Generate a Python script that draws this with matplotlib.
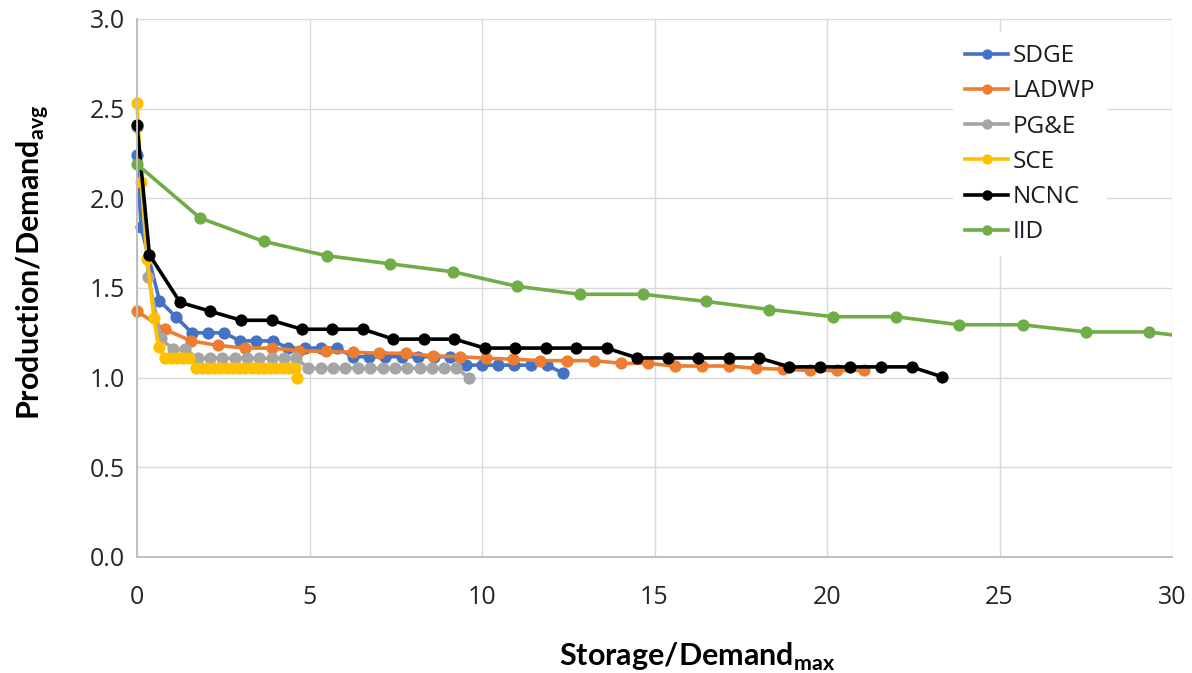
import matplotlib
matplotlib.use("Agg")
import matplotlib.pyplot as plt
from matplotlib.patches import Rectangle

# ---- data -------------------------------------------------------------
series_names = ["SDGE", "LADWP", "PG&E", "SCE", "NCNC", "IID"]
series_colors = ["#4472C4", "#ED7D31", "#A5A5A5", "#FFC000", "#000000", "#70AD47"]

sdge_x = [0, 0.12, 0.65, 1.12, 1.59, 2.05, 2.52, 2.99, 3.46, 3.93, 4.39, 4.86,
          5.33, 5.80, 6.26, 6.73, 7.20, 7.67, 8.14, 8.60, 9.07, 9.54, 10.01,
          10.47, 10.94, 11.41, 11.88, 12.35]
sdge_y = [2.24, 1.84, 1.43, 1.34, 1.25, 1.25, 1.25, 1.205, 1.205, 1.205,
          1.165, 1.165, 1.165, 1.165, 1.117, 1.117, 1.117, 1.117, 1.117, 1.117,
          1.117, 1.07, 1.07, 1.07, 1.07, 1.07, 1.07, 1.025]

ladwp_x = [0, 0.80, 1.57, 2.34, 3.12, 3.90, 4.69, 5.47, 6.25, 7.02, 7.80, 8.58,
           9.36, 10.13, 10.91, 11.69, 12.47, 13.25, 14.03, 14.81, 15.59, 16.38,
           17.16, 17.94, 18.72, 19.50, 20.28, 21.06]
ladwp_y = [1.37, 1.27, 1.205, 1.18, 1.165, 1.165, 1.15, 1.146, 1.142, 1.136,
           1.136, 1.121, 1.117, 1.108, 1.103, 1.095, 1.095, 1.095, 1.08, 1.08,
           1.065, 1.065, 1.065, 1.052, 1.047, 1.04, 1.04, 1.04]

pge_x = [0, 0.33, 0.69, 1.04, 1.40, 1.76, 2.12, 2.47, 2.83, 3.19, 3.54, 3.90,
         4.26, 4.61, 4.97, 5.33, 5.69, 6.04, 6.40, 6.76, 7.12, 7.47, 7.83, 8.19,
         8.55, 8.90, 9.26, 9.62]
pge_y = [2.40, 1.56, 1.22, 1.158, 1.158, 1.108, 1.108, 1.108, 1.108, 1.108,
         1.108, 1.108, 1.108, 1.108, 1.052, 1.052, 1.052, 1.052, 1.052, 1.052,
         1.052, 1.052, 1.052, 1.052, 1.052, 1.052, 1.052, 1.0]

sce_x = [0, 0.13, 0.30, 0.49, 0.63, 0.80, 0.98, 1.16, 1.34, 1.52, 1.70, 1.88,
         2.06, 2.24, 2.42, 2.60, 2.78, 2.96, 3.14, 3.32, 3.50, 3.68, 3.86, 4.04,
         4.22, 4.40, 4.58, 4.65]
sce_y = [2.53, 2.09, 1.66, 1.33, 1.17, 1.112, 1.112, 1.112, 1.112, 1.112,
         1.056, 1.056, 1.056, 1.056, 1.056, 1.056, 1.056, 1.056, 1.056, 1.056,
         1.056, 1.056, 1.056, 1.056, 1.056, 1.056, 1.056, 1.0]

ncnc_x = [0, 0.36, 1.25, 2.13, 3.02, 3.90, 4.78, 5.66, 6.55, 7.43, 8.31, 9.20,
          10.08, 10.96, 11.85, 12.73, 13.61, 14.50, 15.38, 16.26, 17.15, 18.03,
          18.91, 19.80, 20.68, 21.56, 22.45, 23.33]
ncnc_y = [2.41, 1.685, 1.42, 1.37, 1.32, 1.32, 1.27, 1.27, 1.27, 1.215, 1.215,
          1.215, 1.165, 1.165, 1.165, 1.165, 1.165, 1.11, 1.11, 1.11, 1.11,
          1.11, 1.06, 1.06, 1.06, 1.06, 1.06, 1.005]

iid_x = [0, 1.83, 3.67, 5.50, 7.33, 9.17, 11.00, 12.83, 14.67, 16.50, 18.33,
         20.17, 22.00, 23.83, 25.67, 27.50, 29.33, 31.17]
iid_y = [2.19, 1.89, 1.76, 1.68, 1.635, 1.59, 1.51, 1.465, 1.465, 1.425, 1.38,
         1.34, 1.34, 1.295, 1.295, 1.255, 1.255, 1.21]

x_ticks = [0, 5, 10, 15, 20, 25, 30]
y_ticks = [0.0, 0.5, 1.0, 1.5, 2.0, 2.5, 3.0]
x_title = r"Storage/Demand$_{\mathbf{max}}$"
y_title = r"Production/Demand$_{\mathbf{avg}}$"

# ---- styling ----------------------------------------------------------
plt.rcParams["font.family"] = ["Open Sans", "DejaVu Sans"]
plt.rcParams["mathtext.fontset"] = "custom"
plt.rcParams["mathtext.rm"] = "Lato"
plt.rcParams["mathtext.bf"] = "Lato:bold"

W, H = 1192, 673
fig = plt.figure(figsize=(W / 100, H / 100), dpi=100)
left, right, top, bottom = 137, 1172, 19, 557
ax = fig.add_axes([left / W, 1 - bottom / H, (right - left) / W, (bottom - top) / H])

series = [(sdge_x, sdge_y), (ladwp_x, ladwp_y), (pge_x, pge_y),
          (sce_x, sce_y), (ncnc_x, ncnc_y), (iid_x, iid_y)]

# markers may spill over the left/bottom axis lines, but lines stop at x = 30
clip = Rectangle((-0.03, -0.05), 1.03, 1.1, transform=ax.transAxes,
                 facecolor="none", edgecolor="none")
ax.add_patch(clip)

for (xs, ys), name, col in zip(series, series_names, series_colors):
    (ln,) = ax.plot(xs, ys, color=col, lw=2.6, marker="o", markersize=8.8,
                    markeredgewidth=0, label=name, solid_joinstyle="round")
    ln.set_clip_path(clip)

ax.set_xlim(0, 30)
ax.set_ylim(0, 3.0)
ax.set_xticks(x_ticks)
ax.set_xticklabels([f"{t:d}" for t in x_ticks])
ax.set_yticks(y_ticks)
ax.set_yticklabels([f"{t:.1f}" for t in y_ticks])

ax.grid(True, color="#d9d9d9", lw=1.0)
ax.set_axisbelow(True)
for side in ("top", "right"):
    ax.spines[side].set_visible(False)
for side in ("left", "bottom"):
    ax.spines[side].set_color("#bfbfbf")
    ax.spines[side].set_linewidth(1.4)

ax.tick_params(axis="both", length=0, labelsize=18, colors="#262626")
ax.tick_params(axis="x", pad=20)
ax.tick_params(axis="y", pad=8.5)

fig.text(697 / W, 1 - 657 / H, x_title, ha="center", va="center",
         fontsize=22, fontweight="bold", family="Lato", color="black")
fig.text(33 / W, 1 - 262 / H, y_title, ha="center", va="center", rotation=90,
         fontsize=22, fontweight="bold", family="Lato", color="black")

leg = ax.legend(loc="upper left", bbox_to_anchor=(941 / W, 1 - 20 / H),
                bbox_transform=fig.transFigure, fontsize=17.5, frameon=True,
                facecolor="white", edgecolor="none", framealpha=1.0,
                fancybox=False, borderpad=0.5, handlelength=1.75,
                handletextpad=0.2, labelspacing=0.46, markerscale=0.85)
for t in leg.get_texts():
    t.set_color("#1a1a1a")

fig.savefig("out.png", dpi=100)
